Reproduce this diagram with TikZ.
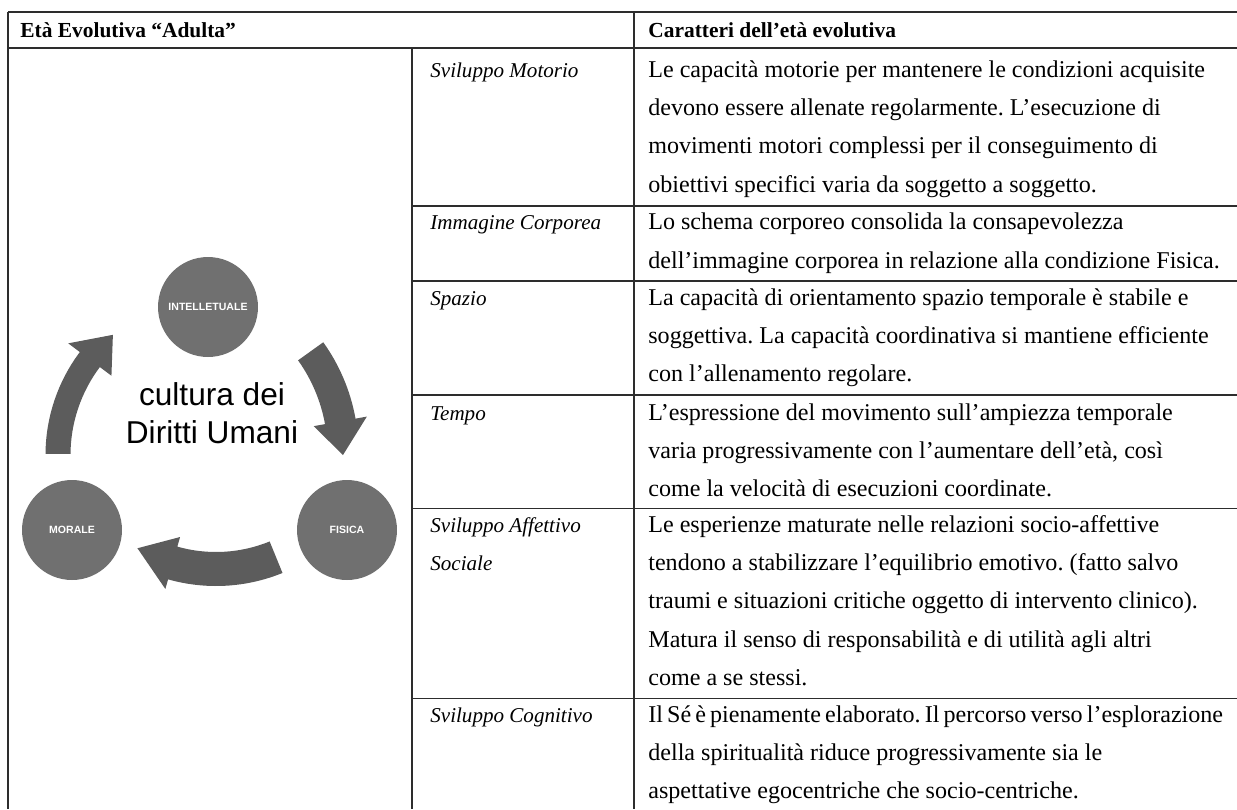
\documentclass[tikz,border=0pt]{standalone}
\usepackage{fontspec}
\setmainfont{Liberation Serif}
\setsansfont{Liberation Sans}
\usepackage{tikz}
\usetikzlibrary{calc}
\frenchspacing
\definecolor{bubblegray}{RGB}{112,112,112}
\definecolor{arrowgray}{RGB}{92,92,92}
\definecolor{rulegray}{RGB}{45,45,45}
\newcommand{\cyclearrow}[6]{%
  \fill[arrowgray] ($(#1)+(#4:{#2+#3})$)
    arc[start angle=#4, end angle=#5, radius={#2+#3}]
    -- ($(#1)+(#5:{#2+27})$) -- ($(#1)+(#6:{#2})$) -- ($(#1)+(#5:{#2-27})$)
    -- ($(#1)+(#5:{#2-#3})$)
    arc[start angle=#5, end angle=#4, radius={#2-#3}] -- cycle;
}

\begin{document}
\begin{tikzpicture}[
  x=0.02cm,
  y=-0.02cm,
  tablerule/.style={
    rulegray,
    line width=0.8pt
  },
  colhead/.style={
    anchor=north west,
    inner sep=0pt,
    font=\fontsize{12.2}{21.8}\selectfont\bfseries
  },
  aspect/.style={
    anchor=north west,
    inner sep=0pt,
    align=left,
    font=\fontsize{12}{21.8}\selectfont\itshape
  },
  desc/.style={
    anchor=north west,
    inner sep=0pt,
    align=left,
    font=\fontsize{13.7}{21.8}\selectfont
  },
  bubble/.style={
    circle,
    fill=bubblegray,
    minimum size=2cm,
    inner sep=0pt,
    text=white,
    font=\sffamily\bfseries\fontsize{6}{7}\selectfont
  },
  motto/.style={
    anchor=north,
    inner sep=0pt,
    align=center,
    font=\sffamily\fontsize{18}{21.8}\selectfont
  }
]
\useasboundingbox (0,0) rectangle (1237,809);
\draw[tablerule] (8,12) -- (1237,12);
\draw[tablerule] (8,48) -- (1237,48);
\draw[tablerule] (8,12) -- (8,809);
\draw[tablerule] (634,12) -- (634,809);
\draw[tablerule] (412,48) -- (412,809);
\foreach \y in {206,281,395,508.5,698.5}
  \draw[tablerule] (412,\y) -- (1237,\y);

\node[colhead] (agehead) at (20,10.2) {\strut Età Evolutiva “Adulta”};
\node[colhead] (traithead) at (648,10.2) {\strut Caratteri dell’età evolutiva};

\node[aspect] (motorio) at (430,50.2) {\strut Sviluppo Motorio};
\node[aspect] (corporea) at (430,202.7) {\strut Immagine Corporea};
\node[aspect] (spazio) at (430,278.2) {\strut Spazio};
\node[aspect] (tempo) at (430,393.2) {\strut Tempo};
\node[aspect] (affettivo) at (430,505.2) {\strut Sviluppo Affettivo\\Sociale};
\node[aspect] (cognitivo) at (430,695.2) {\strut Sviluppo Cognitivo};

\node[desc] (motoriotxt) at (648,50.2) {\strut Le capacità motorie per mantenere le condizioni acquisite\\
devono essere allenate regolarmente. L’esecuzione di\\
movimenti motori complessi per il conseguimento di\\
obiettivi specifici varia da soggetto a soggetto.};
\node[desc] (corporeatxt) at (648,202.7) {\strut Lo schema corporeo consolida la consapevolezza\\
dell’immagine corporea in relazione alla condizione Fisica.};
\node[desc] (spaziotxt) at (648,278.2) {\strut La capacità di orientamento spazio temporale è stabile e\\
soggettiva. La capacità coordinativa si mantiene efficiente\\
con l’allenamento regolare.};
\node[desc] (tempotxt) at (648,393.2) {\strut L’espressione del movimento sull’ampiezza temporale\\
varia progressivamente con l’aumentare dell’età, così\\
come la velocità di esecuzioni coordinate.};
\node[desc] (affettivotxt) at (648,505.2) {\strut Le esperienze maturate nelle relazioni socio-affettive\\
tendono a stabilizzare l’equilibrio emotivo. (fatto salvo\\
traumi e situazioni critiche oggetto di intervento clinico).\\
Matura il senso di responsabilità e di utilità agli altri\\
come a se stessi.};
\node[desc] (cognitivotxt) at (648,695.2) {\strut{\spaceskip=0.17em\relax Il Sé è pienamente elaborato. Il percorso verso l’esplorazione}\\
della spiritualità riduce progressivamente sia le\\
aspettative egocentriche che socio-centriche.};

\node[bubble] (intel) at (208,307) {INTELLETUALE};
\node[bubble] (morale) at (72,530) {MORALE};
\node[bubble] (fisica) at (347,530) {FISICA};

\coordinate (pivR) at (170,452);
\coordinate (pivB) at (216,410);
\coordinate (pivL) at (217,455);
\cyclearrow{pivR}{173}{15.5}{-35.6}{-10.2}{1}
\cyclearrow{pivB}{159}{17}{67.8}{105.8}{119.6}
\cyclearrow{pivL}{159}{12.5}{180.4}{216.9}{229.1}

\node[motto] (motto) at (212,378.2) {\strut cultura dei\\Diritti Umani};
\end{tikzpicture}
\end{document}
